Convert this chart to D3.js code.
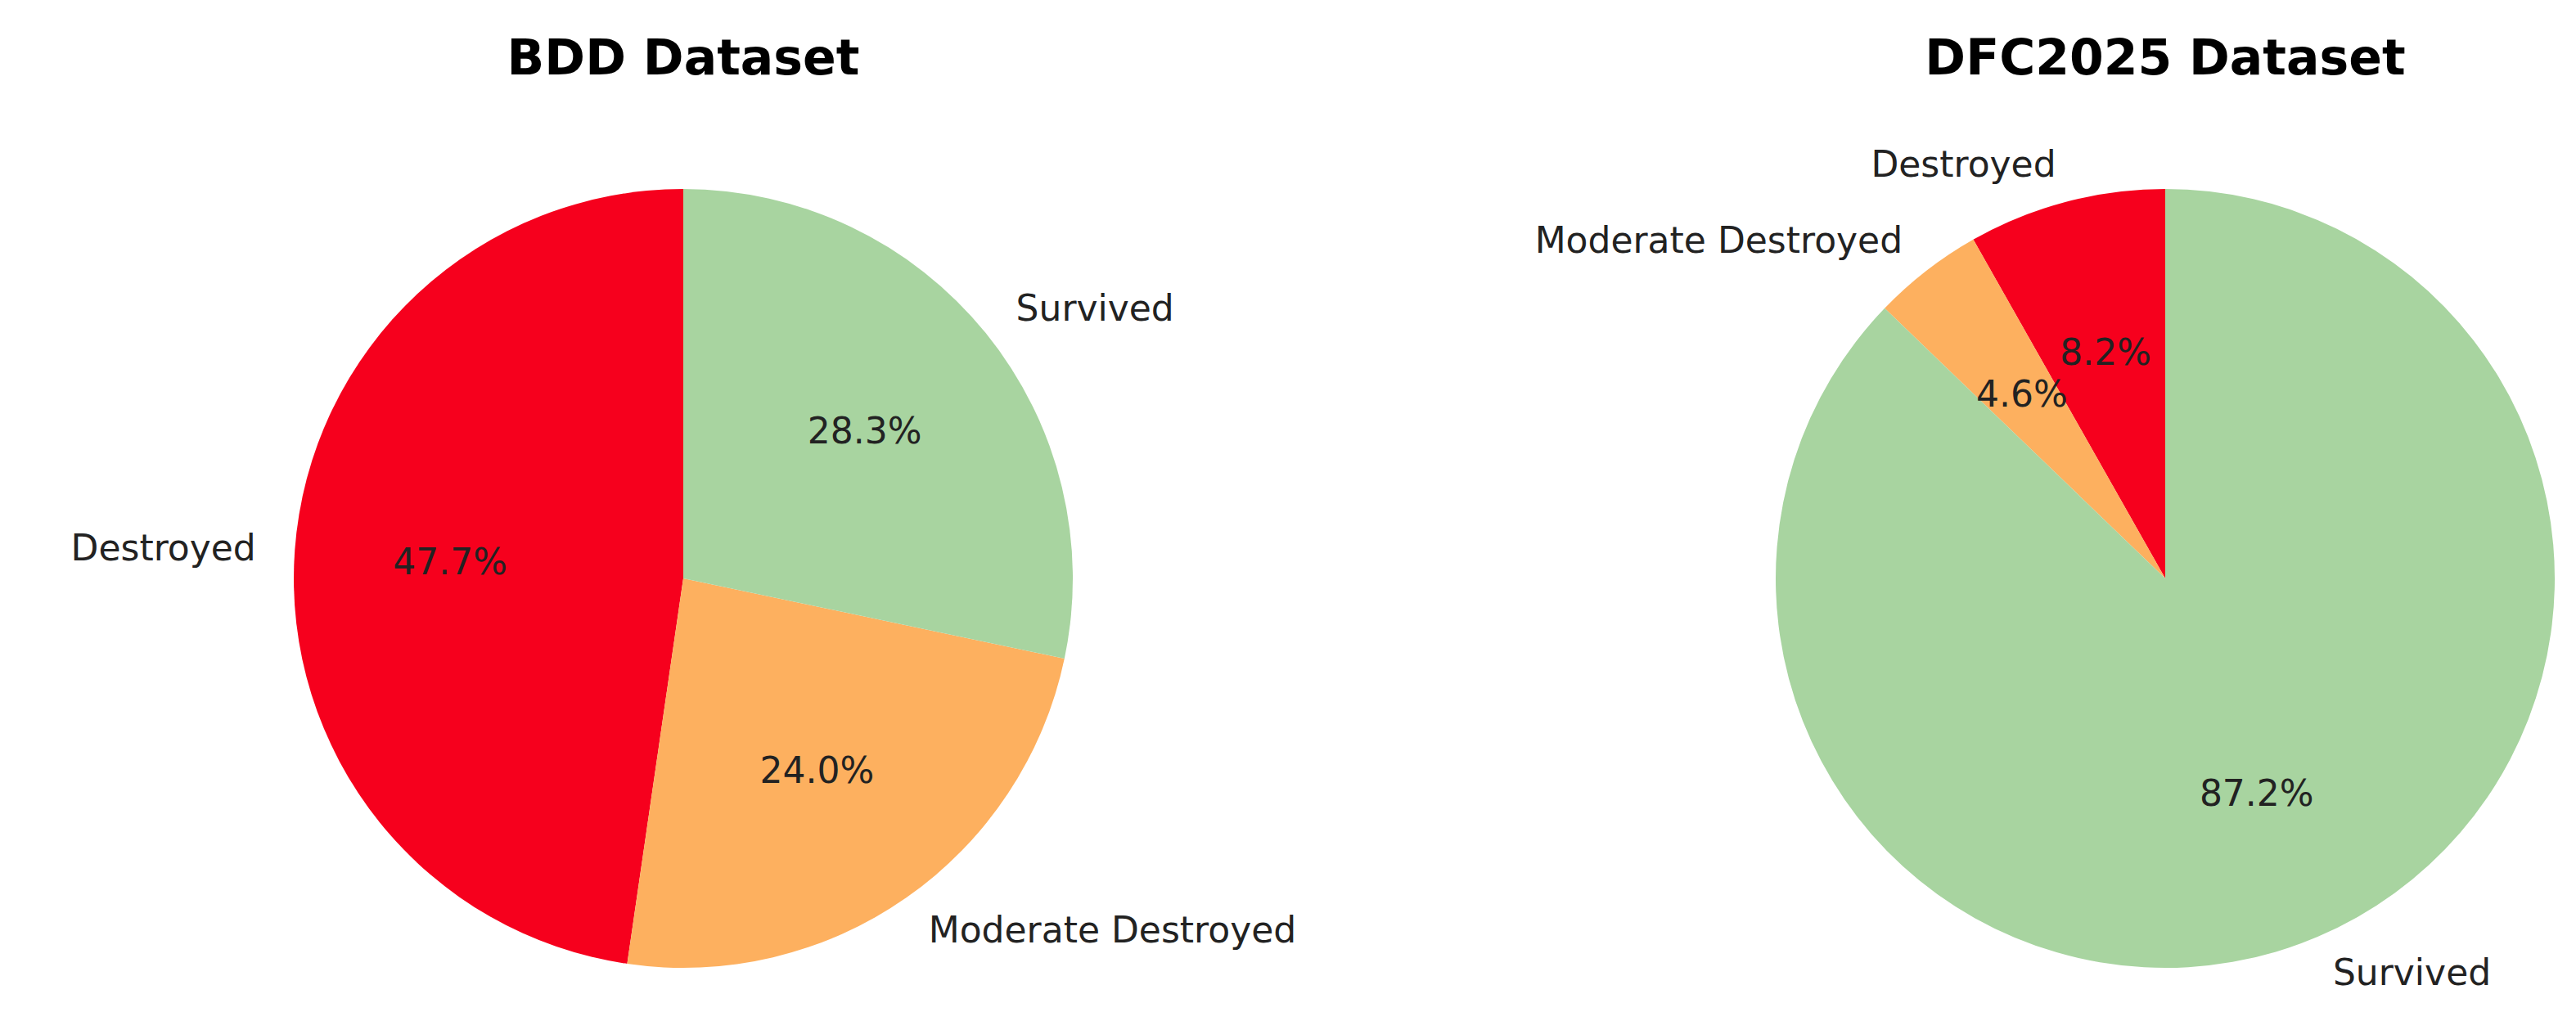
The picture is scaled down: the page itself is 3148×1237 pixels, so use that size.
<!DOCTYPE html>
<html><head><meta charset="utf-8">
<script src="https://cdn.jsdelivr.net/npm/d3@7"></script>
<style>body{margin:0;background:#fff}</style>
</head><body>
<script>
const categories = ["Destroyed", "Moderate Destroyed", "Survived"];
const bddValues = [47.7, 24.0, 28.3];
const dfcValues = [8.2, 4.6, 87.2];
const titles = ["BDD Dataset", "DFC2025 Dataset"];
const colors = ["#f6001d", "#fdb05f", "#a8d4a0"];

const width = 3148, height = 1237;
const svg = d3.select("body").append("svg")
    .attr("width", width).attr("height", height)
    .style("font-family", "DejaVu Sans, sans-serif");

const radius = 476;
const color = d3.scaleOrdinal(categories, colors);

// matplotlib style: start at top, counterclockwise
const pie = d3.pie().sort(null).startAngle(0).endAngle(-2 * Math.PI);
const arc = d3.arc().innerRadius(0).outerRadius(radius);

function drawPie(values, title, cx) {
    const g = svg.append("g").attr("transform", "translate(" + cx + ",707)");
    const data = pie(values.map((v, i) => ({cat: categories[i], v: v})).map(d => d.v))
        .map((d, i) => Object.assign(d, {cat: categories[i]}));

    g.selectAll("path").data(data).enter().append("path")
        .attr("d", arc)
        .attr("fill", d => color(d.cat));

    const mid = d => (d.startAngle + d.endAngle) / 2;
    g.selectAll(".pct").data(data).enter().append("text")
        .attr("x", d => 0.6 * radius * Math.sin(mid(d)))
        .attr("y", d => -0.6 * radius * Math.cos(mid(d)))
        .attr("dy", "0.35em")
        .attr("text-anchor", "middle")
        .attr("font-size", 44)
        .attr("fill", "#222")
        .text(d => d.data.toFixed(1) + "%");

    g.selectAll(".lbl").data(data).enter().append("text")
        .attr("x", d => 1.1 * radius * Math.sin(mid(d)))
        .attr("y", d => -1.1 * radius * Math.cos(mid(d)))
        .attr("dy", "0.35em")
        .attr("text-anchor", d => Math.sin(mid(d)) > 0 ? "start" : "end")
        .attr("font-size", 44)
        .attr("fill", "#222")
        .text(d => d.cat);

    svg.append("text")
        .attr("x", cx).attr("y", 70)
        .attr("dy", "0.35em")
        .attr("text-anchor", "middle")
        .attr("font-size", 60)
        .attr("font-weight", "bold")
        .text(title);
}

drawPie(bddValues, titles[0], 835);
drawPie(dfcValues, titles[1], 2646);
</script>
</body></html>
